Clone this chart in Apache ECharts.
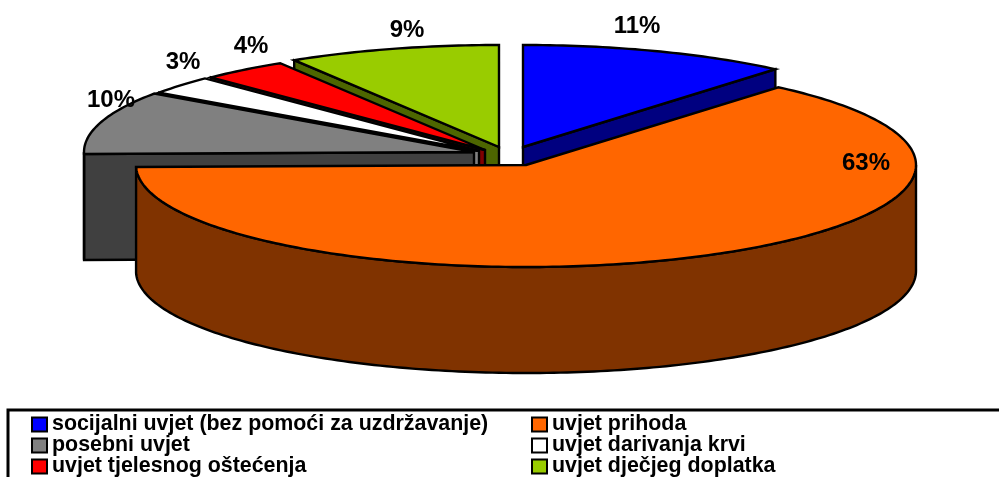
<!DOCTYPE html>
<html>
<head>
<meta charset="utf-8">
<style>html,body{margin:0;padding:0;background:#fff;overflow:hidden}#c{width:999px;height:477px}</style>
<script src="https://cdn.jsdelivr.net/npm/echarts@6/dist/echarts.min.js"></script>
</head>
<body>
<div id="c"></div>
<script>
// Data
var categories = ['socijalni uvjet (bez pomoći za uzdržavanje)','uvjet prihoda','posebni uvjet','uvjet darivanja krvi','uvjet tjelesnog oštećenja','uvjet dječjeg doplatka'];
var values = [11.2, 63.49, 10.01, 2.9, 3.6, 8.8];
// Styles
var topColors  = ['#0000ff','#ff6600','#808080','#ffffff','#ff0000','#99cc00'];
var sideColors = ['#000080','#803300','#404040','#808080','#800000','#4d6600'];
// Layout: exploded centre of each slice and its label position
var centreX = [523, 526, 474, 479, 485, 499];
var centreY = [147, 165, 152, 151, 150, 147];
var labelX  = [637, 866, 111, 183, 251, 407];
var labelY  = [26, 163, 100, 62, 46, 30];
var drawOrder = [5, 4, 3, 2, 0, 1];
var RX = 390, RY = 102, DEPTH = 106;

var total = values.reduce(function(a,b){return a+b;},0);
var starts = [], acc = 0;
values.forEach(function(v){ starts.push(acc/total*360); acc += v; });

function pt(cx, cy, deg){
  var r = deg*Math.PI/180;
  return [cx + RX*Math.sin(r), cy - RY*Math.cos(r)];
}
function arc(cx, cy, a, b){
  var pts = [], n = Math.max(2, Math.ceil(Math.abs(b-a)));
  for (var i=0;i<=n;i++) pts.push(pt(cx, cy, a+(b-a)*i/n));
  return pts;
}
function poly(points, fill, z2){
  return {type:'polygon', silent:true, z2:z2, shape:{points:points},
    style:{fill:fill, stroke:'#000', lineWidth:2.4, lineJoin:'miter'}};
}
function wall(p, q, fill, z2){
  return poly([p, q, [q[0], q[1]+DEPTH], [p[0], p[1]+DEPTH]], fill, z2);
}
function render(i){
  return function(params, api){
    var cx = centreX[i], cy = centreY[i];
    var a = starts[i], b = a + api.value(0)/total*360;
    var apex = [cx, cy], kids = [];
    // cut faces that look towards the viewer
    if (a > 180 && a < 360) kids.push(wall(apex, pt(cx,cy,a), sideColors[i], 1));
    if (b > 0 && b < 180) kids.push(wall(apex, pt(cx,cy,b), sideColors[i], 1));
    // outer rim (front half of the ellipse)
    var ra = Math.max(a, 90), rb = Math.min(b, 270);
    if (rb > ra){
      var upper = arc(cx, cy, ra, rb);
      var lower = upper.map(function(p){return [p[0], p[1]+DEPTH];}).reverse();
      kids.push(poly(upper.concat(lower), sideColors[i], 2));
    }
    // top face
    kids.push(poly([apex].concat(arc(cx, cy, a, b)), topColors[i], 3));
    // percentage label
    kids.push({type:'text', silent:true, z2:4, style:{
      x:labelX[i], y:labelY[i], text:Math.round(api.value(0))+'%',
      fill:'#000', font:'bold 24px "Liberation Sans", Arial, sans-serif',
      align:'center', verticalAlign:'middle'}});
    return {type:'group', children:kids};
  };
}
var series = drawOrder.map(function(i, k){
  return {type:'custom', name:categories[i], coordinateSystem:'none', z:2+k,
    animation:false, silent:true, clip:false,
    itemStyle:{color:topColors[i]},
    data:[{name:categories[i], value:[values[i]]}],
    encode:{value:0},
    renderItem:render(i)};
});
function legend(left, items){
  return {show:true, orient:'vertical', left:left, top:414, height:90, padding:0, itemGap:0,
    itemWidth:15, itemHeight:14, icon:'rect', selectedMode:false,
    data:items,
    itemStyle:{borderColor:'#000', borderWidth:2},
    textStyle:{color:'#000', fontFamily:'"Liberation Sans", Arial, sans-serif', fontWeight:'bold', fontSize:21.4}};
}
var chart = echarts.init(document.getElementById('c'), null, {renderer:'canvas'});
chart.setOption({
  animation:false,
  backgroundColor:'#fff',
  tooltip:{show:false},
  legend:[
    legend(31, [categories[0],categories[2],categories[4]]),
    legend(531, [categories[1],categories[3],categories[5]])
  ],
  graphic:[{type:'rect', silent:true, z:0, shape:{x:8, y:410, width:1100, height:120},
    style:{fill:'#fff', stroke:'#000', lineWidth:3}}],
  series:series
});
</script>
</body>
</html>
